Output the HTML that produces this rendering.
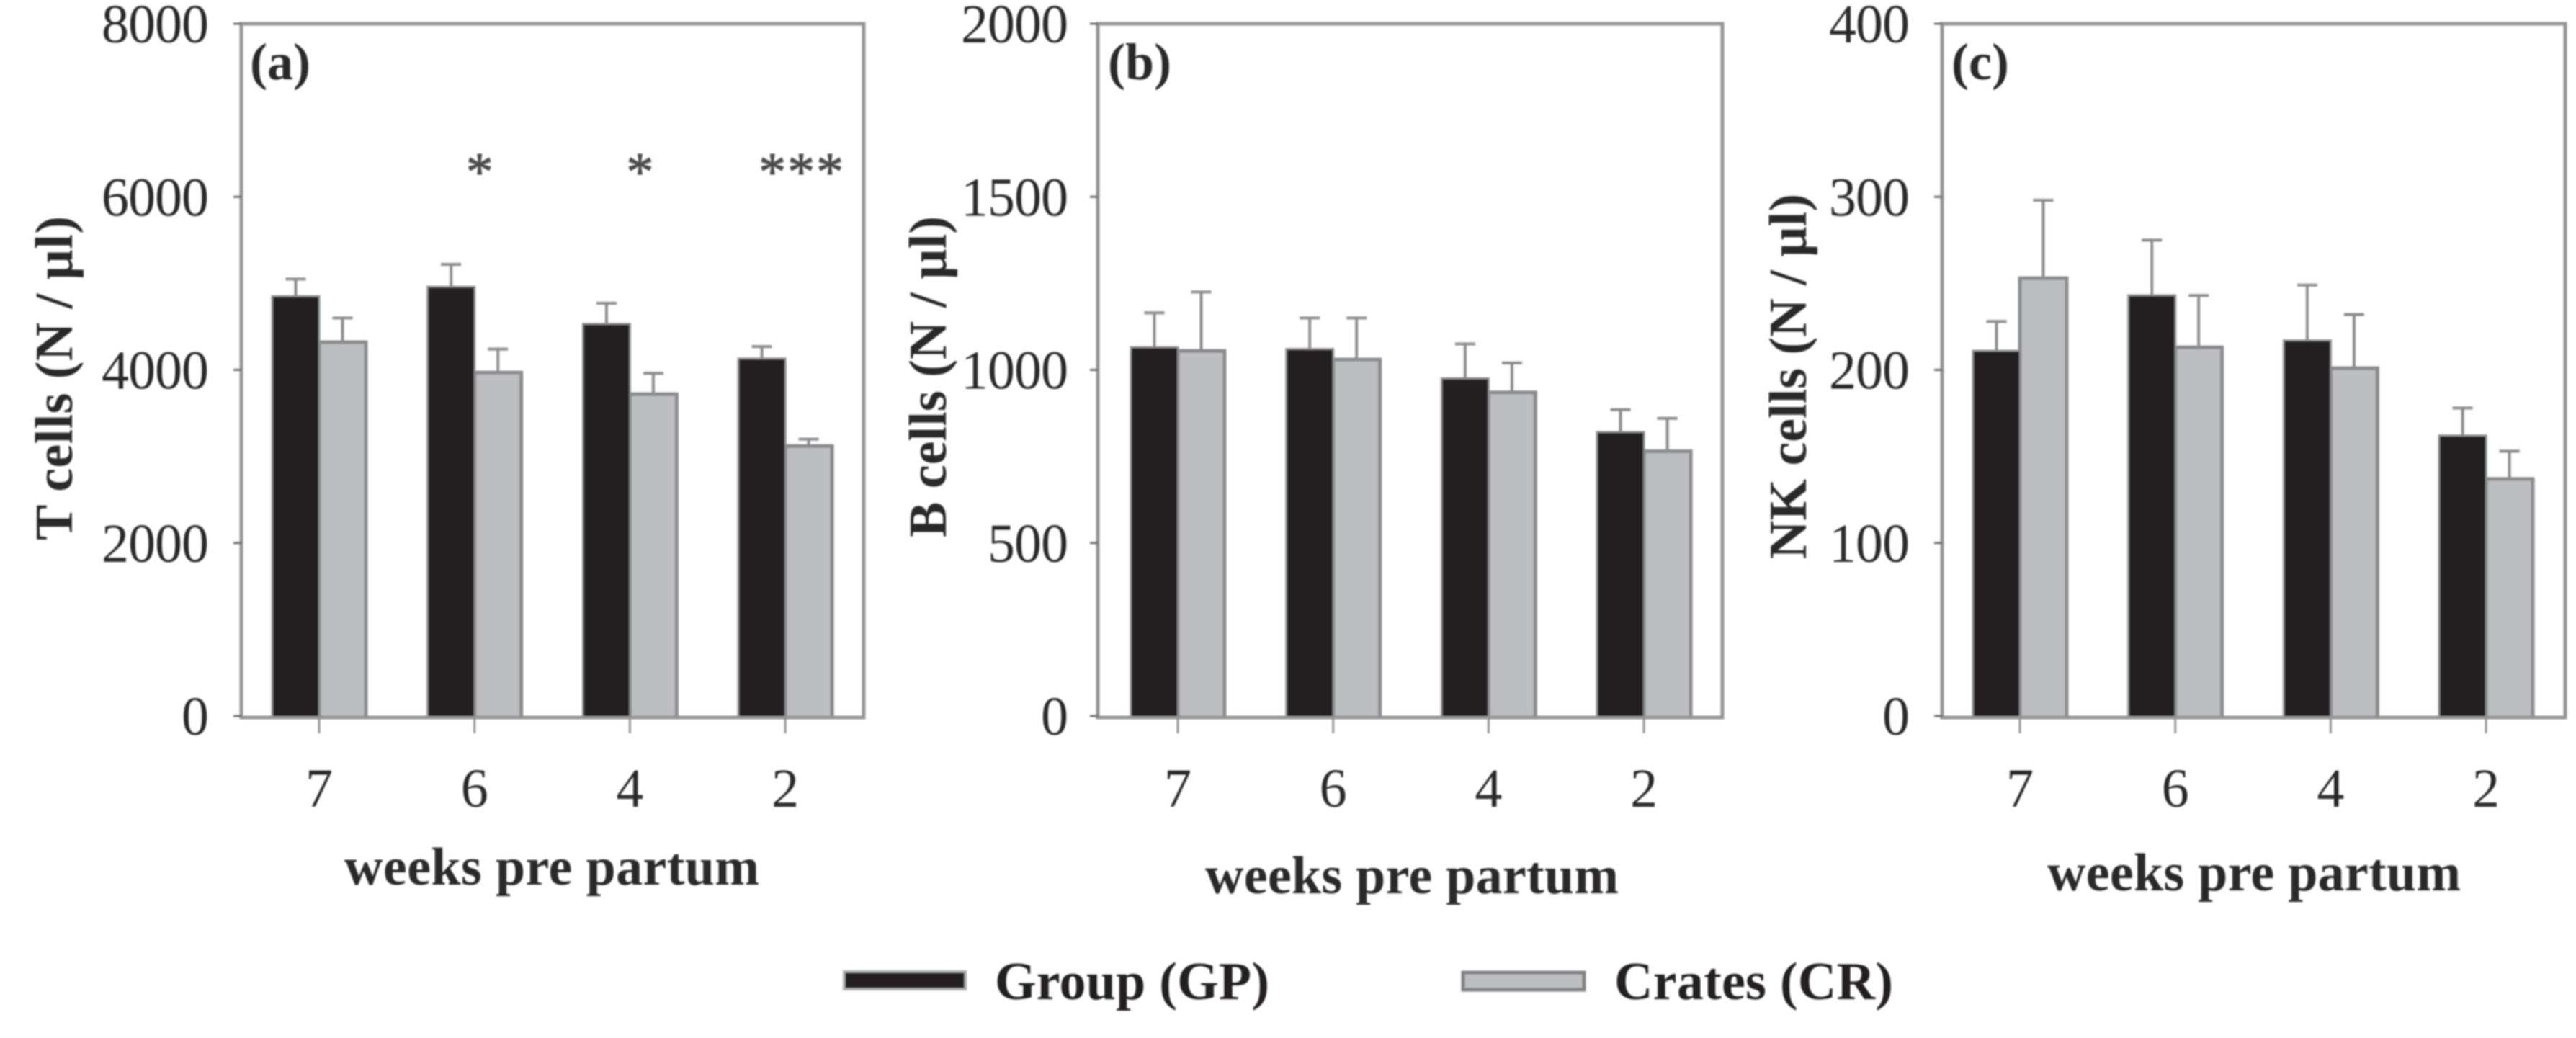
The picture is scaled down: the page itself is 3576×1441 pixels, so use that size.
<!DOCTYPE html>
<html lang="en">
<head>
<meta charset="utf-8">
<title>Lymphocyte counts pre partum</title>
<style>
html,body{margin:0;padding:0;background:#fff;}
body{width:3576px;height:1441px;overflow:hidden;}
svg{display:block;filter:blur(1px);font-family:"Liberation Serif",serif;}
</style>
</head>
<body>
<svg id="figure" width="3576" height="1441" viewBox="0 0 3576 1441" xmlns="http://www.w3.org/2000/svg">
  <g id="legend">
    <rect x="1172" y="1349" width="168" height="24" fill="#231f20" stroke="#a7a9ac" stroke-width="4"/>
    <text x="1381" y="1387" font-size="74" font-weight="bold" fill="#231f20" textLength="381" lengthAdjust="spacing">Group (GP)</text>
    <rect x="2031" y="1350" width="168" height="24" fill="#bcbec0" stroke="#808285" stroke-width="5"/>
    <text x="2241" y="1387" font-size="74" font-weight="bold" fill="#231f20" textLength="387" lengthAdjust="spacing">Crates (CR)</text>
  </g>
</svg>
<script>
const weekLabels = ['7', '6', '4', '2'];

const tTickLabels = [0, 2000, 4000, 6000, 8000];
const tGroup = [4850, 4960, 4530, 4130];
const tCrates = [4320, 3970, 3720, 3120];
const tGroupUpper = [5050, 5220, 4770, 4270];
const tCratesUpper = [4600, 4240, 3960, 3200];
const tSignificance = ['', '*', '*', '***'];

const bTickLabels = [0, 500, 1000, 1500, 2000];
const bGroup = [1065, 1060, 975, 820];
const bCrates = [1055, 1030, 935, 765];
const bGroupUpper = [1165, 1150, 1075, 885];
const bCratesUpper = [1225, 1150, 1020, 860];
const bSignificance = ['', '', '', ''];

const nkTickLabels = [0, 100, 200, 300, 400];
const nkGroup = [211, 243, 217, 162];
const nkCrates = [253, 213, 201, 137];
const nkGroupUpper = [228, 275, 249, 178];
const nkCratesUpper = [298, 243, 232, 153];
const nkSignificance = ['', '', '', ''];

const SVG_NS = 'http://www.w3.org/2000/svg';
const INK = '#2b2829';
const AXIS = '#929497';
const BAR_DARK = '#231f20';
const BAR_LIGHT = '#bcbec0';
const BAR_EDGE = '#8a8c8f';
const figure = document.getElementById('figure');

function make(parent, tag, props, content) {
  const el = document.createElementNS(SVG_NS, tag);
  for (const k in props) el.setAttribute(k, props[k]);
  if (content !== undefined) el.textContent = content;
  parent.appendChild(el);
  return el;
}

function drawPanel(cfg) {
  const g = make(figure, 'g', {});
  
  

  const maxValue = cfg.ticks[cfg.ticks.length - 1];
  const yTop = 33, yBase = 994, frameBottom = 996;
  const yScale = v => yBase - (v / maxValue) * (yBase - yTop);
  const xScale = i => cfg.firstTick + i * cfg.tickStep;

  cfg.group.forEach((v, i) => {
    const cx = xScale(i);
    const errG = make(g, 'line', {x1: cx - cfg.barW / 2, x2: cx - cfg.barW / 2, y1: yScale(v), y2: yScale(cfg.groupUpper[i]), stroke: BAR_EDGE, 'stroke-width': 4});
    
    
    const capG = make(g, 'line', {x1: cx - cfg.barW / 2 - 14, x2: cx - cfg.barW / 2 + 14, y1: yScale(cfg.groupUpper[i]), y2: yScale(cfg.groupUpper[i]), stroke: BAR_EDGE, 'stroke-width': 4});
    
    
    const errC = make(g, 'line', {x1: cx + cfg.barW / 2, x2: cx + cfg.barW / 2, y1: yScale(cfg.crates[i]), y2: yScale(cfg.cratesUpper[i]), stroke: BAR_EDGE, 'stroke-width': 4});
    
    
    const capC = make(g, 'line', {x1: cx + cfg.barW / 2 - 14, x2: cx + cfg.barW / 2 + 14, y1: yScale(cfg.cratesUpper[i]), y2: yScale(cfg.cratesUpper[i]), stroke: BAR_EDGE, 'stroke-width': 4});
    
    

    const barC = make(g, 'rect', {x: cx, y: yScale(cfg.crates[i]), width: cfg.barW, height: frameBottom - yScale(cfg.crates[i]), fill: BAR_LIGHT, stroke: BAR_EDGE, 'stroke-width': 5});
    
    
    const barG = make(g, 'rect', {x: cx - cfg.barW, y: yScale(v), width: cfg.barW, height: frameBottom - yScale(v), fill: BAR_DARK, stroke: BAR_EDGE, 'stroke-width': 3});
    
    

    const tick = make(g, 'line', {x1: cx, x2: cx, y1: frameBottom, y2: frameBottom + 22, stroke: AXIS, 'stroke-width': 3});
    
    
    const label = make(g, 'text', {x: cx, y: 1120, 'font-size': 76, 'text-anchor': 'middle', fill: INK}, weekLabels[i]);
    
    

    if (cfg.significance[i]) {
      const marks = make(g, 'text', {x: cx + cfg.sigOffset[i], y: 264, 'font-size': 76, 'text-anchor': 'middle', 'letter-spacing': 2, fill: '#4a4a4c', stroke: '#4a4a4c', 'stroke-width': 1}, cfg.significance[i]);
      
      
    }
  });

  const frame = make(g, 'rect', {x: cfg.left, y: yTop, width: cfg.right - cfg.left, height: frameBottom - yTop, fill: 'none', stroke: AXIS, 'stroke-width': 5});
  
  

  cfg.ticks.forEach(t => {
    const tick = make(g, 'line', {x1: cfg.left - 11, x2: cfg.left, y1: yScale(t), y2: yScale(t), stroke: '#6d6e71', 'stroke-width': 3});
    
    
    const label = make(g, 'text', {x: cfg.tickRight, y: yScale(t) + 26, 'font-size': 76, 'text-anchor': 'end', fill: INK, 'letter-spacing': -1}, String(t));
    
    
  });

  const yTitle = make(g, 'text', {transform: 'translate(' + cfg.yTitleX + ' ' + cfg.yTitleBottom + ') rotate(-90)', 'font-size': 74, 'font-weight': 'bold', fill: INK, textLength: cfg.yTitleLen, lengthAdjust: 'spacing'}, cfg.yTitle);
  
  

  const xTitle = make(g, 'text', {x: cfg.xTitleX, y: cfg.xTitleY, 'font-size': 74, 'font-weight': 'bold', fill: INK, textLength: cfg.xTitleLen, lengthAdjust: 'spacing'}, 'weeks pre partum');
  
  

  const tag = make(g, 'text', {x: cfg.tagX, y: 110, 'font-size': 72, 'font-weight': 'bold', fill: INK}, cfg.tag);
  
  
}

drawPanel({
  key: 'a', tag: '(a)', tagX: 347, left: 335, right: 1199, firstTick: 443, tickStep: 215.7, barW: 65, tickRight: 289,
  ticks: tTickLabels, group: tGroup, crates: tCrates, groupUpper: tGroupUpper, cratesUpper: tCratesUpper, significance: tSignificance,
  sigOffset: [0, 8, 15, 23],
  yTitle: 'T cells (N / µl)', yTitleX: 100, yTitleBottom: 750, yTitleLen: 450,
  xTitleX: 478, xTitleY: 1228, xTitleLen: 576
});
drawPanel({
  key: 'b', tag: '(b)', tagX: 1538, left: 1524, right: 2391, firstTick: 1635, tickStep: 215.7, barW: 65, tickRight: 1482,
  ticks: bTickLabels, group: bGroup, crates: bCrates, groupUpper: bGroupUpper, cratesUpper: bCratesUpper, significance: bSignificance,
  sigOffset: [0, 0, 0, 0],
  yTitle: 'B cells (N / µl)', yTitleX: 1313, yTitleBottom: 746, yTitleLen: 446,
  xTitleX: 1673, xTitleY: 1240, xTitleLen: 574
});
drawPanel({
  key: 'c', tag: '(c)', tagX: 2709, left: 2696, right: 3561, firstTick: 2804, tickStep: 215.7, barW: 65, tickRight: 2650,
  ticks: nkTickLabels, group: nkGroup, crates: nkCrates, groupUpper: nkGroupUpper, cratesUpper: nkCratesUpper, significance: nkSignificance,
  sigOffset: [0, 0, 0, 0],
  yTitle: 'NK cells (N / µl)', yTitleX: 2507, yTitleBottom: 776, yTitleLen: 507,
  xTitleX: 2842, xTitleY: 1236, xTitleLen: 574
});
</script>
</body>
</html>
